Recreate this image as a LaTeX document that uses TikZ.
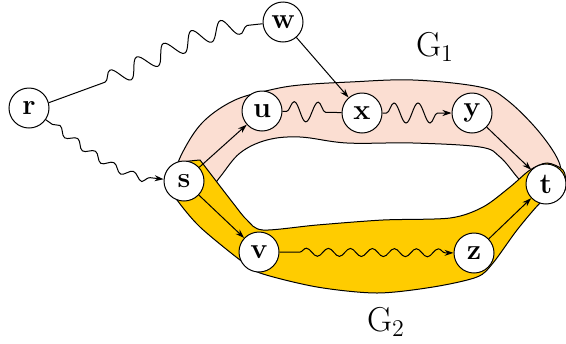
\documentclass[tikz,border=0pt]{standalone}
\usetikzlibrary{decorations.pathmorphing,arrows.meta}
\definecolor{gonepink}{RGB}{251,222,210}
\definecolor{gtwogold}{RGB}{255,204,0}
\begin{document}
\begin{tikzpicture}[x=0.5pt,y=-0.5pt,line width=0.5pt,
  vertex/.style={draw, circle, fill=white, inner sep=0pt, minimum size=20pt, font=\Large\bfseries},
  wave/.style={decorate, decoration={snake, amplitude=#1, segment length=12pt, pre length=2pt, post length=3pt}},
  >={Stealth[length=4.5pt,width=3pt]}]
\useasboundingbox (0,0) rectangle (566,343);
% the two subgraphs
\filldraw[fill=gonepink] plot[smooth cycle, tension=0.6] coordinates {(176,172) (186,146) (205,120) (235,100) (270,90) (300,85) (350,82) (413,80) (480,87) (507,100) (540,133) (560,165) (555,185) (530,190) (518,178) (500,157) (480,147) (413,143) (347,143) (300,137) (267,140) (240,153) (220,177) (205,195) (185,192)};
\filldraw[fill=gtwogold] plot[smooth, tension=0.5] coordinates {(200,160) (233,203) (247,220) (263,230) (317,225) (383,220) (450,218) (483,207) (510,187) (530,170) (547,163) (563,170) (566,184) (563,193) (550,198) (540,203) (517,230) (493,263) (477,277) (433,287) (377,293) (317,287) (260,273) (240,260) (200,227) (177,200) (165,180) (170,167) (183,162) (200,160)} -- cycle;
\node at (435,47) {\LARGE G$_1$};
\node at (386,322) {\LARGE G$_2$};
% vertices
\node[vertex] (r) at (29,108) {r};
\node[vertex] (w) at (283,22) {w};
\node[vertex] (u) at (262,111) {u};
\node[vertex] (x) at (362,113) {x};
\node[vertex] (y) at (472,113) {y};
\node[vertex] (s) at (184,181) {s};
\node[vertex] (t) at (546,184) {t};
\node[vertex] (v) at (259,252) {v};
\node[vertex] (z) at (474,253) {z};
% paths
\draw[decorate, decoration={snake, amplitude=4.5pt, segment length=15pt, pre length=30pt, post length=2pt}] (r) to[out=15,in=185] (w);
\draw[->, decorate, decoration={snake, amplitude=1.8pt, segment length=11pt, pre length=4pt, post length=4pt}] (r) to[out=-35,in=175] (s);
\draw[wave=5pt] (u) -- (x);
\draw[->, wave=5pt] (x) -- (y);
\draw[->, decorate, decoration={snake, amplitude=2pt, segment length=11pt, pre length=10pt, post length=4pt}] (v) -- (z);
\draw[->] (w) -- (x);
\draw[->] (s) -- (u);
\draw[->] (s) -- (v);
\draw[->] (y) -- (t);
\draw[->] (z) -- (t);
\end{tikzpicture}
\end{document}
